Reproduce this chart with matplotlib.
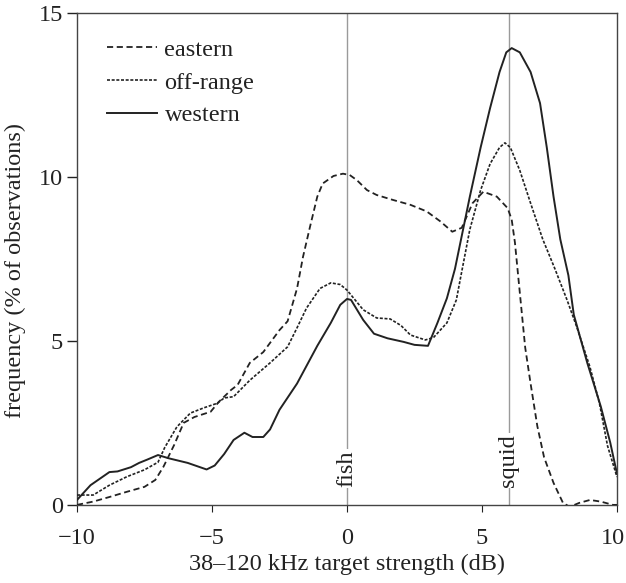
import matplotlib
matplotlib.use('Agg')
import matplotlib.pyplot as plt
import matplotlib.transforms as mtransforms

# --- data ---
western_x = [-10, -9.5, -8.8, -8.5, -8.0, -7.7, -7.4, -7.0, -6.6, -5.9, -5.2, -4.9, -4.55, -4.2,
             -3.8, -3.5, -3.1, -2.85, -2.5, -1.85, -1.1, -0.6, -0.25, 0.0, 0.15, 0.6, 1.0, 1.5,
             2.1, 2.5, 3.0, 3.35, 3.7, 4.0, 4.2, 4.55, 4.95, 5.3, 5.65, 5.9, 6.1, 6.4, 6.8, 7.15,
             7.4, 7.65, 7.9, 8.2, 8.4, 8.9, 9.4, 9.75, 10.0]
western_y = [0.15, 0.6, 1.0, 1.02, 1.15, 1.28, 1.38, 1.52, 1.42, 1.28, 1.08, 1.2, 1.55, 1.98,
             2.2, 2.07, 2.07, 2.3, 2.9, 3.7, 4.85, 5.55, 6.1, 6.28, 6.25, 5.64, 5.22, 5.08,
             4.97, 4.88, 4.85, 5.55, 6.3, 7.2, 8.0, 9.4, 10.9, 12.1, 13.2, 13.8, 13.93, 13.8,
             13.2, 12.25, 10.9, 9.4, 8.1, 7.0, 5.8, 4.33, 3.0, 1.9, 0.95]

offrange_x = [-10, -9.4, -8.8, -8.15, -7.5, -7.0, -6.75, -6.3, -5.8, -5.3, -4.8, -4.55, -4.2,
              -3.6, -2.85, -2.2, -1.85, -1.5, -1.0, -0.6, -0.25, 0.0, 0.3, 0.6, 1.1, 1.6, 2.0,
              2.35, 2.9, 3.2, 3.7, 4.05, 4.2, 4.55, 4.95, 5.3, 5.65, 5.85, 6.05, 6.4, 6.8, 7.25,
              7.7, 8.15, 8.5, 9.0, 9.35, 9.65, 10.0]
offrange_y = [0.3, 0.3, 0.6, 0.86, 1.07, 1.3, 1.75, 2.38, 2.8, 2.96, 3.1, 3.26, 3.3, 3.8,
              4.33, 4.82, 5.4, 6.0, 6.6, 6.77, 6.72, 6.55, 6.25, 5.95, 5.7, 5.67, 5.47, 5.18,
              5.03, 5.1, 5.55, 6.25, 6.9, 8.4, 9.6, 10.4, 10.9, 11.04, 10.9, 10.2, 9.2, 8.1,
              7.2, 6.25, 5.45, 4.2, 3.1, 1.8, 0.85]

eastern_x = [-10, -9.4, -8.8, -8.15, -7.5, -7.1, -6.8, -6.4, -6.05, -5.65, -5.05, -4.75, -4.3,
             -4.05, -3.6, -3.1, -2.5, -2.2, -1.85, -1.63, -1.37, -1.1, -0.9, -0.5, -0.15, 0.1,
             0.37, 0.74, 1.1, 1.7, 2.35, 2.95, 3.45, 3.9, 4.25, 4.65, 5.05, 5.55, 5.95, 6.1,
             6.22, 6.35, 6.6, 6.8, 7.05, 7.3, 7.65, 8.0, 8.25, 8.6, 9.0, 9.4, 9.85, 10.0]
eastern_y = [0.0, 0.1, 0.24, 0.4, 0.55, 0.76, 1.16, 1.83, 2.5, 2.68, 2.84, 3.14, 3.5, 3.66,
             4.33, 4.66, 5.33, 5.6, 6.6, 7.56, 8.48, 9.4, 9.8, 10.03, 10.1, 10.06, 9.9, 9.6,
             9.45, 9.3, 9.15, 8.95, 8.65, 8.33, 8.45, 9.2, 9.55, 9.4, 9.05, 8.7, 8.0, 6.9, 4.8,
             3.7, 2.4, 1.45, 0.67, 0.06, -0.06, 0.06, 0.15, 0.1, 0.0, 0.0]

markers = [0, 6]
marker_labels = ['fish', 'squid']

plt.rcParams['font.family'] = ['Liberation Serif', 'DejaVu Serif']
plt.rcParams['font.size'] = 17.5

fig = plt.figure(figsize=(6.26, 5.83), dpi=100)
ax = fig.add_axes([0.123, 0.134, 0.8626, 0.8437])

ink = '#222222'
for xv, lab in zip(markers, marker_labels):
    ax.axvline(xv, color='#9a9a9a', lw=1.0, zorder=1)
    ax.text(xv, 0.55, lab, rotation=90, ha='center', va='bottom',
            color=ink, zorder=2, bbox=dict(facecolor='white', edgecolor='none', pad=1.0))

ax.plot(eastern_x, eastern_y, color=ink, lw=1.3, linestyle=(0, (3.4, 2.0)), label='eastern', zorder=3)
ax.plot(offrange_x, offrange_y, color=ink, lw=1.2, linestyle=(0, (1.8, 1.0)), label='off-range', zorder=3)
ax.plot(western_x, western_y, color=ink, lw=1.4, label='western', zorder=3)

ax.set_xlim(-10, 10)
ax.set_ylim(0, 15)
ax.set_xticks([-10, -5, 0, 5, 10])
ax.set_yticks([0, 5, 10, 15])
ax.tick_params(axis='y', direction='out', length=7, width=1, colors=ink, pad=3)
ax.tick_params(axis='x', direction='out', length=5, width=0.8, colors=ink, pad=12)
for s in ax.spines.values():
    s.set_color('#444444')
    s.set_linewidth(1.0)

# keep the last x tick label inside the canvas
last = ax.get_xticklabels()[-1]
last.set_transform(last.get_transform() + mtransforms.ScaledTranslation(-4 / 100, 0, fig.dpi_scale_trans))

ax.set_xlabel('38–120 kHz target strength (dB)', color=ink, labelpad=3)
ax.set_ylabel('frequency (% of observations)', color=ink)
ax.yaxis.set_label_coords(-0.094, 0.476)

leg = ax.legend(loc='upper left', frameon=False, handlelength=2.05, handletextpad=0.3,
                labelspacing=0.45, borderaxespad=0.45, bbox_to_anchor=(0.018, 0.99))
for t in leg.get_texts():
    t.set_color(ink)

fig.savefig('out.png', dpi=100)
